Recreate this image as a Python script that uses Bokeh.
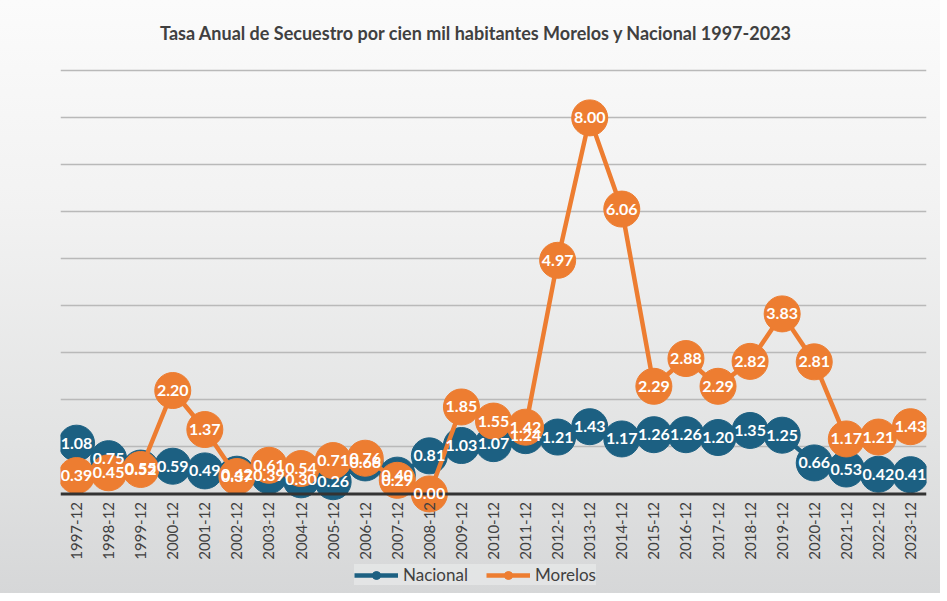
from bokeh.plotting import figure
from bokeh.models import ColumnDataSource, FactorRange, Range1d, FixedTicker, Span, LabelSet, Label, Legend, LegendItem
from bokeh.core.properties import value
from bokeh.embed import file_html
from bokeh.resources import INLINE
import math

TITLE = "Tasa Anual de Secuestro por cien mil habitantes Morelos y Nacional 1997-2023"
years = ["1997-12", "1998-12", "1999-12", "2000-12", "2001-12", "2002-12", "2003-12",
         "2004-12", "2005-12", "2006-12", "2007-12", "2008-12", "2009-12", "2010-12",
         "2011-12", "2012-12", "2013-12", "2014-12", "2015-12", "2016-12", "2017-12",
         "2018-12", "2019-12", "2020-12", "2021-12", "2022-12", "2023-12"]
nacional = [1.08, 0.75, 0.55, 0.59, 0.49, 0.42, 0.39, 0.30, 0.26, 0.66, 0.40, 0.81, 1.03, 1.07,
            1.24, 1.21, 1.43, 1.17, 1.26, 1.26, 1.20, 1.35, 1.25, 0.66, 0.53, 0.42, 0.41]
morelos = [0.39, 0.45, 0.52, 2.20, 1.37, 0.37, 0.61, 0.54, 0.71, 0.76, 0.29, 0.00, 1.85, 1.55,
           1.42, 4.97, 8.00, 6.06, 2.29, 2.88, 2.29, 2.82, 3.83, 2.81, 1.17, 1.21, 1.43]
grid_ticks = [1, 2, 3, 4, 5, 6, 7, 8, 9]

BLUE = "#1c6082"
ORANGE = "#ed7d31"
TXT = "#404040"
FONT = "Lato"

src = ColumnDataSource(dict(
    x=years, nac=nacional, mor=morelos, zero=[0] * len(years),
    nac_t=["%.2f" % v for v in nacional],
    mor_t=["%.2f" % v for v in morelos],
))

p = figure(width=940, height=593, x_range=FactorRange(*years), y_range=Range1d(-2.118, 10.497),
           output_backend="svg", toolbar_location=None,
           min_border_left=60, min_border_right=14, min_border_top=0, min_border_bottom=0)
p.styles = {"background": "linear-gradient(180deg, #fbfbfb 0%, #f2f2f2 35%, #e2e3e3 75%, #d6d7d8 100%)"}
p.border_fill_alpha = 0
p.background_fill_alpha = 0
p.outline_line_color = None

p.add_layout(Label(x=416, x_units="screen", y=9, y_offset=38, text=TITLE,
                   text_align="center", text_baseline="middle", text_font=FONT,
                   text_font_size="18px", text_font_style="bold", text_color=TXT))

p.yaxis.visible = False
p.xaxis.visible = False
p.ygrid.ticker = FixedTicker(ticks=grid_ticks)
p.ygrid.grid_line_color = "#b9b9b9"
p.ygrid.grid_line_width = 1.5
p.xgrid.grid_line_color = None

# category labels under the baseline
p.add_layout(LabelSet(x="x", y="zero", text="x", source=src, angle=math.pi / 2,
                      text_align="right", text_baseline="middle", y_offset=-8,
                      text_color=TXT, text_font=value(FONT), text_font_size="15px"))

p.add_layout(Span(location=0, dimension="width", line_color="#333333", line_width=3))

l1 = p.line("x", "nac", source=src, line_color=BLUE, line_width=4.5)
s1 = p.scatter("x", "nac", source=src, size=36, fill_color=BLUE, line_color=BLUE)
l2 = p.line("x", "mor", source=src, line_color=ORANGE, line_width=4.5)
s2 = p.scatter("x", "mor", source=src, size=36, fill_color=ORANGE, line_color=ORANGE)

for col, tcol in (("nac", "nac_t"), ("mor", "mor_t")):
    p.add_layout(LabelSet(x="x", y=col, text=tcol, source=src, text_align="center",
                          text_baseline="middle", text_color="white", text_font=value(FONT),
                          text_font_size="16px", text_font_style="bold"))

legend = Legend(items=[LegendItem(label="Nacional", renderers=[l1, s1]),
                       LegendItem(label="Morelos", renderers=[l2, s2])],
                orientation="horizontal", location=(294, 8),
                label_text_font=FONT, label_text_font_size="17px", label_text_color=TXT,
                label_standoff=5, glyph_width=44, glyph_height=20, spacing=18,
                padding=10, margin=0,
                background_fill_color="#e5e6e6", background_fill_alpha=0.85,
                border_line_color=None)
p.add_layout(legend, "center")

open("out.html", "w").write(file_html(p, INLINE))
